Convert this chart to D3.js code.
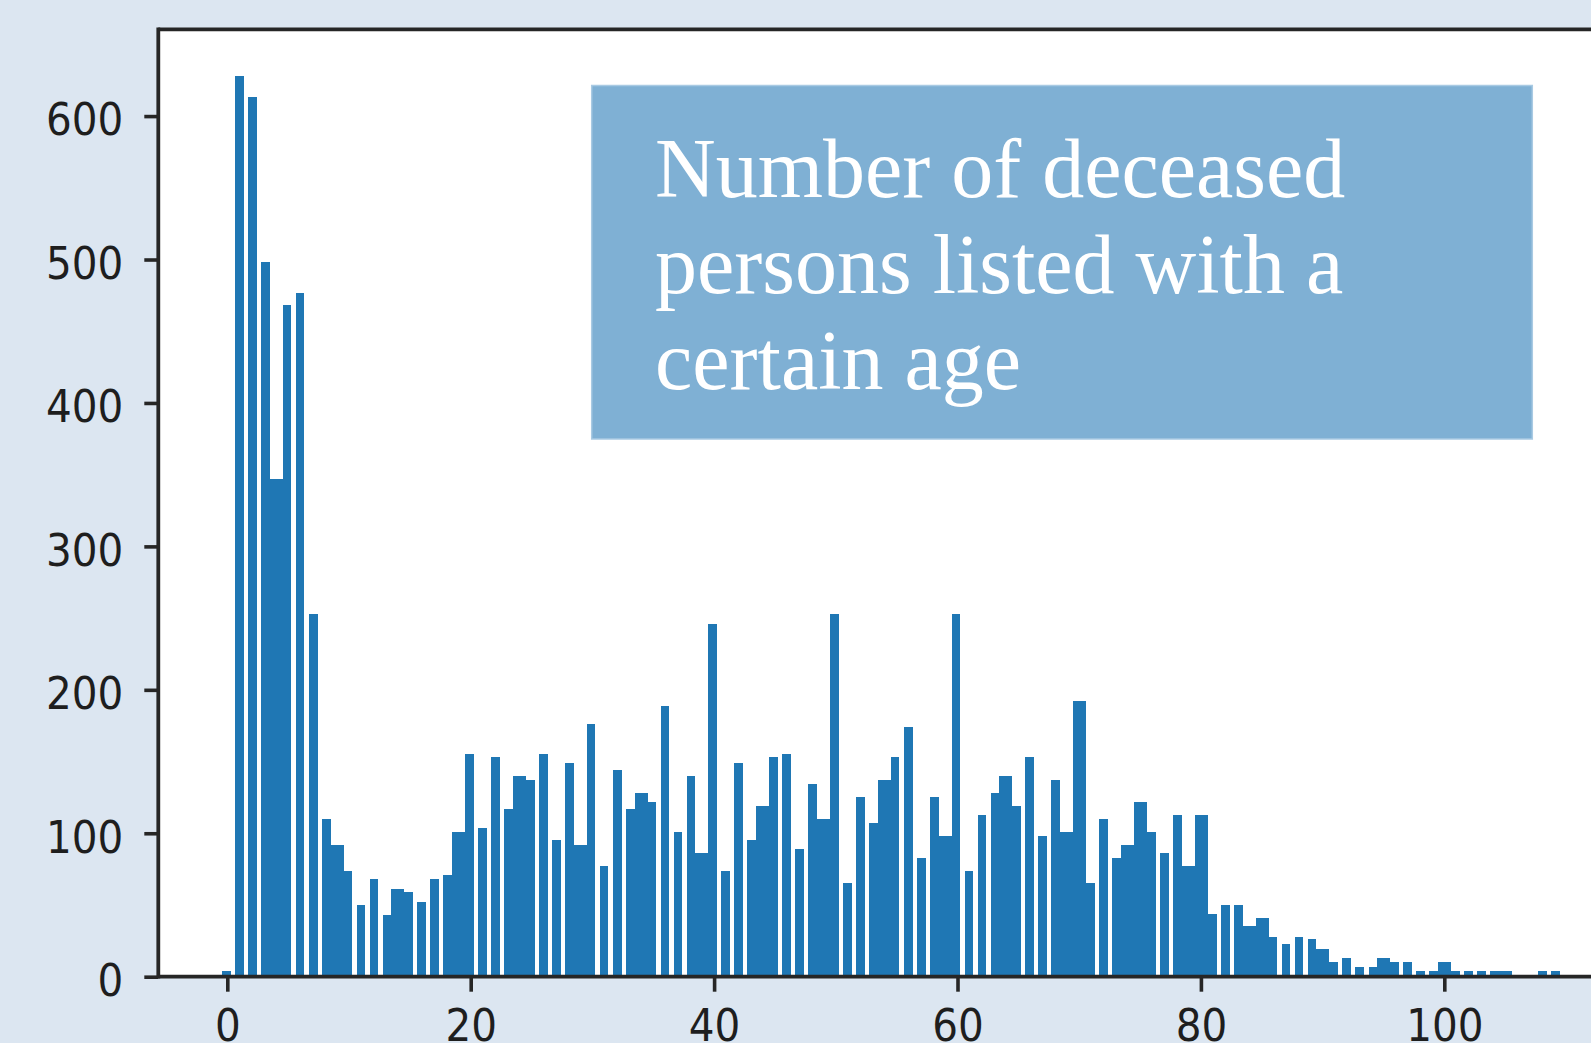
<!DOCTYPE html>
<html>
<head>
<meta charset="utf-8">
<script src="https://cdn.jsdelivr.net/npm/d3@7"></script>
<style>
  html, body { margin: 0; padding: 0; background: #dce6f1; }
  svg { display: block; }
  .tick text {
    font-family: "DejaVu Sans Condensed", "DejaVu Sans", sans-serif;
    font-stretch: condensed;
    font-size: 45px;
    fill: #1e1e1e;
  }
</style>
</head>
<body>
<div id="vis"></div>
<script>
// ages (one bin per year) and how many people were listed with that age
const ages = [
  0, 1, 2, 3, 4, 5, 6, 7, 8, 9, 10, 11, 12, 13, 14, 15, 16, 17, 18, 19,
  20, 21, 22, 23, 24, 25, 26, 27, 28, 29, 30, 31, 32, 33, 34, 35, 36, 37, 38, 39,
  40, 41, 42, 43, 44, 45, 46, 47, 48, 49, 50, 51, 52, 53, 54, 55, 56, 57, 58, 59,
  60, 61, 62, 63, 64, 65, 66, 67, 68, 69, 70, 71, 72, 73, 74, 75, 76, 77, 78, 79,
  80, 81, 82, 83, 84, 85, 86, 87, 88, 89, 90, 91, 92, 93, 94, 95, 96, 97, 98, 99,
  100, 101, 102, 103, 104, 105, 106, 107, 108, 109
];
const counts = [
  4, 628, 613, 498, 347, 468, 477, 253, 110, 92, 74, 50, 68, 43, 61, 59, 52, 68, 71, 101,
  155, 104, 153, 117, 140, 137, 155, 95, 149, 92, 176, 77, 144, 117, 128, 122, 189, 101, 140, 86,
  246, 74, 149, 95, 119, 153, 155, 89, 134, 110, 253, 65, 125, 107, 137, 153, 174, 83, 125, 98,
  253, 74, 113, 128, 140, 119, 153, 98, 137, 101, 192, 65, 110, 83, 92, 122, 101, 86, 113, 77,
  113, 44, 50, 50, 35, 41, 28, 23, 28, 26, 19, 10, 13, 7, 7, 13, 10, 10, 4, 4,
  10, 4, 4, 4, 4, 4, 0, 0, 4, 4
];
const xTicks = [0, 20, 40, 60, 80, 100];
const yTicks = [0, 100, 200, 300, 400, 500, 600];
const titleLines = ["Number of deceased", "persons listed with a", "certain age"];

const width = 1591, height = 1043;
const plotLeft = 158.3, plotTop = 29.3, plotBottom = 976.7;

const x = d3.scaleLinear().domain([-5.67, 115]).range([plotLeft, plotLeft + 120.67 * 12.17]);
const y = d3.scaleLinear().domain([0, 660.5]).range([plotBottom, plotTop]);

const svg = d3.select("#vis").append("svg")
    .attr("width", width)
    .attr("height", height);

svg.append("rect")
    .attr("width", width).attr("height", height)
    .attr("fill", "#dce6f1");

// plot area
svg.append("rect")
    .attr("x", plotLeft).attr("y", plotTop)
    .attr("width", width - plotLeft).attr("height", plotBottom - plotTop)
    .attr("fill", "#fff");

// the original was a small notebook image blown up ~4.3x, so bar edges sit on
// its coarse pixel grid (that's where the uneven white gaps come from)
const px = 4.343, grid0 = 235;
function barEdges(a) {
  const q0 = (x(a - 0.5) - grid0) / px + 0.28;
  const q1 = (x(a + 0.5) - grid0) / px - 0.28;
  const n0 = Math.ceil(q0 - 0.5), n1 = Math.floor(q1 - 0.5);
  return [Math.round(grid0 + n0 * px), Math.round(grid0 + (n1 + 1) * px)];
}

svg.append("g")
    .attr("fill", "#1f77b4")
    .attr("shape-rendering", "crispEdges")
  .selectAll("rect")
  .data(ages.map((a, i) => ({age: a, n: counts[i]})).filter(d => d.n > 0))
  .join("rect")
    .attr("x", d => barEdges(d.age)[0])
    .attr("width", d => barEdges(d.age)[1] - barEdges(d.age)[0])
    .attr("y", d => Math.round(y(d.n)))
    .attr("height", d => Math.round(y(0)) - Math.round(y(d.n)));

// axes
const yAxis = svg.append("g")
    .attr("transform", `translate(${plotLeft},0)`)
    .call(d3.axisLeft(y).tickValues(yTicks).tickSize(14).tickPadding(21));
yAxis.selectAll("text").attr("dy", "0.42em");

const xAxis = svg.append("g")
    .attr("transform", `translate(0,${plotBottom})`)
    .call(d3.axisBottom(x).tickValues(xTicks).tickSize(15).tickPadding(17));

svg.selectAll(".domain").remove();
svg.selectAll(".tick line")
    .attr("stroke", "#262626")
    .attr("stroke-width", 3.6);

// spines
const spine = svg.append("g")
    .attr("stroke", "#262626")
    .attr("stroke-width", 3.8);
spine.append("line").attr("x1", plotLeft).attr("x2", plotLeft).attr("y1", plotTop - 1.9).attr("y2", plotBottom + 1.9);
spine.append("line").attr("x1", plotLeft).attr("x2", width).attr("y1", plotTop).attr("y2", plotTop);
spine.append("line").attr("x1", plotLeft).attr("x2", width).attr("y1", plotBottom).attr("y2", plotBottom);

// text box
svg.append("rect")
    .attr("x", 591.7).attr("y", 85.5)
    .attr("width", 940.6).attr("height", 353.5)
    .attr("fill", "#7fb0d4")
    .attr("stroke", "#a9cae3")
    .attr("stroke-width", 1.5);

svg.append("g")
  .selectAll("text")
  .data(titleLines)
  .join("text")
    .attr("x", 655)
    .attr("y", (d, i) => 197.3 + i * 96)
    .attr("fill", "#fff")
    .style("font-family", "'Liberation Serif', serif")
    .style("font-size", "84px")
    .text(d => d);
</script>
</body>
</html>
